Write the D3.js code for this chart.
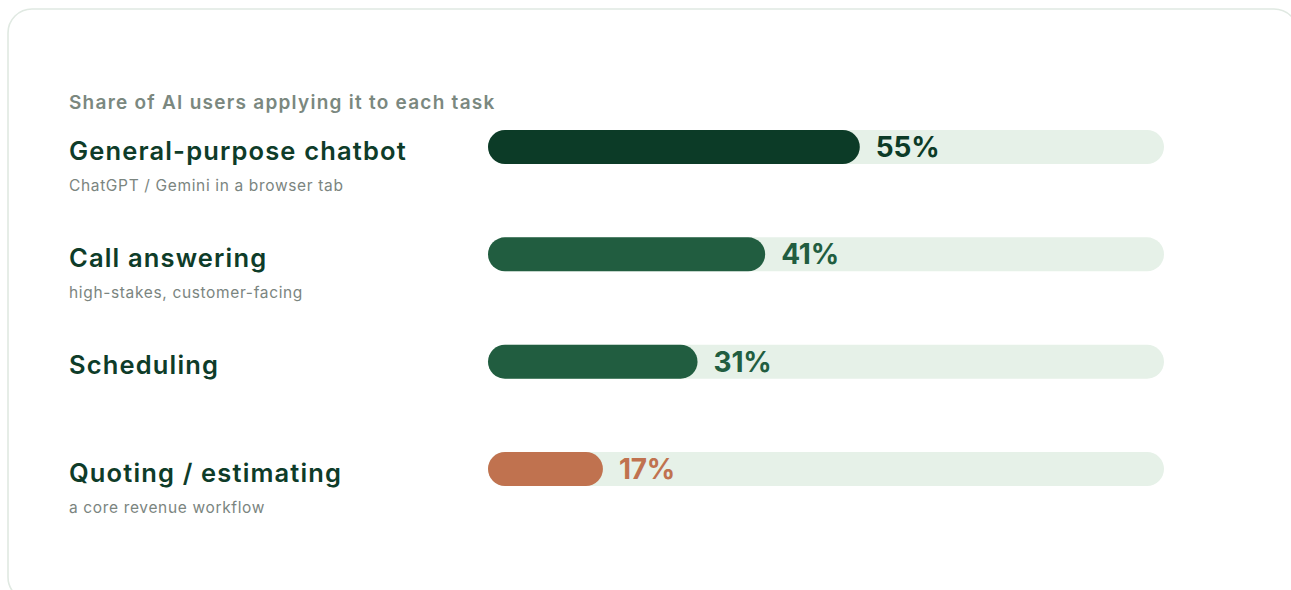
<!DOCTYPE html>
<html>
<head>
<meta charset="utf-8">
<script src="https://cdn.jsdelivr.net/npm/d3@7"></script>
<style>
  html, body { margin: 0; padding: 0; background: #ffffff; }
  svg { display: block; }
  text { font-family: Inter, "Noto Sans", sans-serif; }
</style>
</head>
<body>
<svg id="chart" width="1291" height="590"></svg>
<script>
// Task labels, their notes and the share of AI users (percent)
const tasks = ["General-purpose chatbot", "Call answering", "Scheduling", "Quoting / estimating"];
const notes = ["ChatGPT / Gemini in a browser tab", "high-stakes, customer-facing", "", "a core revenue workflow"];
const shares = [55, 41, 31, 17];
const barColors = ["#0c3b27", "#215d40", "#215d40", "#c0724f"];
const subtitle = "Share of AI users applying it to each task";

const svg = d3.select("#chart");

// Card outline
svg.append("rect")
  .attr("x", 8).attr("y", 9)
  .attr("width", 1290).attr("height", 592)
  .attr("rx", 24)
  .attr("fill", "#ffffff")
  .attr("stroke", "#e0e9e2")
  .attr("stroke-width", 1.6);

svg.append("text")
  .attr("x", 69).attr("y", 108.5)
  .attr("fill", "#7b887f")
  .attr("font-size", 19)
  .attr("font-weight", 600)
  .attr("letter-spacing", 1.25)
  .text(subtitle);

const x = d3.scaleLinear().domain([0, 100]).range([488, 1164]);
const y = d3.scalePoint().domain(tasks).range([130, 452]);
const barH = 34;

const rows = svg.selectAll("g.row")
  .data(tasks.map((t, i) => ({ task: t, note: notes[i], value: shares[i], color: barColors[i] })))
  .join("g")
  .attr("class", "row")
  .attr("transform", d => `translate(0,${y(d.task)})`);

rows.append("text")
  .attr("x", 69).attr("y", 29.5)
  .attr("fill", "#0e3c29")
  .attr("font-size", 25.5)
  .attr("font-weight", 600)
  .attr("letter-spacing", 1.15)
  .text(d => d.task);

rows.append("text")
  .attr("x", 69).attr("y", 60.5)
  .attr("fill", "#7b857f")
  .attr("font-size", 15.5)
  .attr("font-weight", 400)
  .attr("letter-spacing", 0.65)
  .text(d => d.note);

// Background track
rows.append("rect")
  .attr("x", x(0)).attr("y", 0)
  .attr("width", x(100) - x(0)).attr("height", barH)
  .attr("rx", barH / 2)
  .attr("fill", "#e6f1e8");

// Value bar
rows.append("rect")
  .attr("x", x(0)).attr("y", 0)
  .attr("width", d => x(d.value) - x(0)).attr("height", barH)
  .attr("rx", barH / 2)
  .attr("fill", d => d.color);

rows.append("text")
  .attr("x", d => x(d.value) + 16)
  .attr("y", barH / 2 + 10)
  .attr("fill", d => d.color)
  .attr("font-size", 28)
  .attr("font-weight", 700)
  .attr("letter-spacing", -0.2)
  .text(d => d.value + "%");
</script>
</body>
</html>
